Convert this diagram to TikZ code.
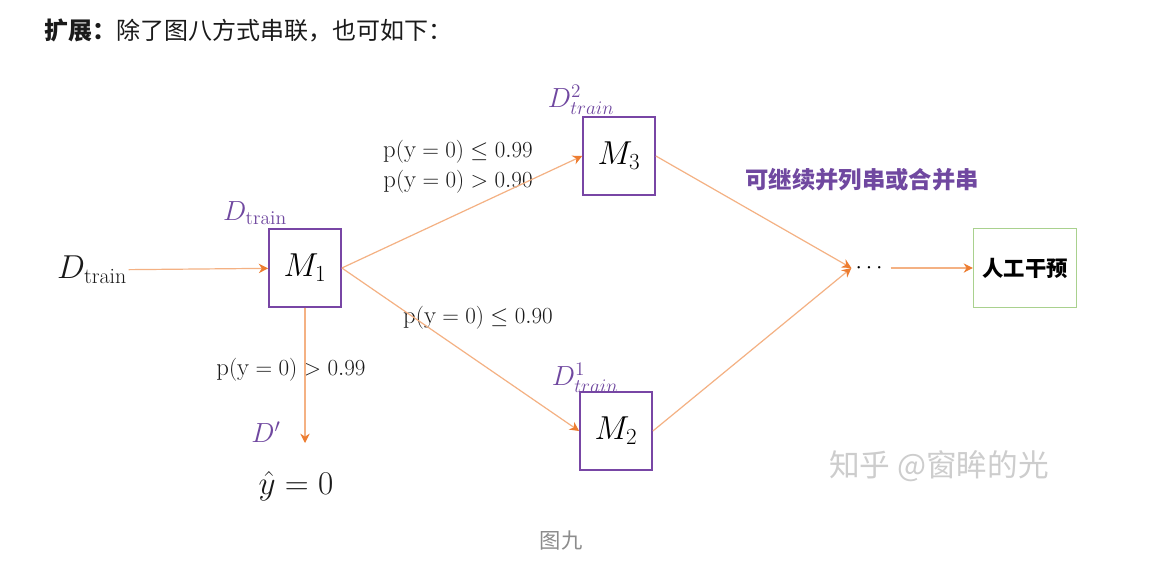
\documentclass[tikz,border=0pt]{standalone}
\usepackage{fontspec}
\usepackage{amsmath,amssymb}
\usetikzlibrary{arrows.meta,positioning}
\newfontfamily\cjk{Noto Sans CJK SC}
\definecolor{flowor}{RGB}{244,177,131}
\definecolor{tipor}{RGB}{237,125,49}
\definecolor{modpurple}{RGB}{120,70,165}
\definecolor{setpurple}{RGB}{112,72,160}
\definecolor{humgreen}{RGB}{169,209,142}
\definecolor{inkgray}{RGB}{26,26,26}
\definecolor{capgray}{RGB}{140,140,140}
\definecolor{markgray}{RGB}{205,205,205}
\tikzset{
  model/.style={draw=modpurple,line width=1.3pt,minimum width=54pt,
    minimum height=58pt,inner sep=0pt,font=\fontsize{23}{26}\selectfont},
  human/.style={draw=humgreen,line width=1.1pt,minimum width=77pt,
    minimum height=59pt,inner sep=0pt,font=\cjk\bfseries\fontsize{16}{18}\selectfont},
  flow/.style={-{Stealth[length=7pt,width=7pt,color=tipor]},draw=flowor,line width=0.9pt},
  cond/.style={font=\fontsize{18.5}{21}\selectfont,inner sep=1pt,text=inkgray},
  setlab/.style={text=setpurple,font=\fontsize{21}{24}\selectfont,inner sep=0pt},
  bigmath/.style={font=\fontsize{23.5}{26}\selectfont,inner sep=1pt,text=inkgray}
}

\begin{document}
\begin{tikzpicture}[x=0.75pt,y=-0.75pt]
  \fill[white] (0,0) rectangle (1152,571);
  \useasboundingbox (0,0) rectangle (1152,571);
  % heading and caption
  \node[anchor=west,font=\cjk\fontsize{18}{20}\selectfont,text=inkgray,inner sep=0pt]
    (head) at (44,30) {{\bfseries 扩展：}除了图八方式串联，也可如下：};
  \node[font=\cjk\fontsize{16}{18}\selectfont,text=capgray] (cap) at (561,541) {图九};
  % models
  \node[bigmath] (dtr) at (92,270) {$D_{\text{train}}$};
  \node[model] (m1) at (305,268) {$M_1$};
  \node[model] (m3) at (619,156) {$M_3$};
  \node[model] (m2) at (616,431) {$M_2$};
  \node[setlab] (d0) at (255,213) {$D_{\text{train}}$};
  \node[setlab] (d2) at (581,100) {$D^2_{train}$};
  \node[setlab] (d1) at (585,378) {$D^1_{train}$};
  \node[setlab] (dp) at (266,432) {$D'$};
  \node[bigmath] (yhat) at (296,486) {$\hat{y}=0$};
  \coordinate (dend) at (305,443);
  % merge and human check
  \node[font=\fontsize{18}{20}\selectfont,inner sep=3pt] (dots) at (871,268) {$\cdots$};
  \node[human] (hum) at (1025,268) {人工干预};
  \node[font=\cjk\bfseries\fontsize{17.5}{20}\selectfont,text=setpurple] (more) at (862,180)
    {可继续并列串或合并串};
  \node[font=\cjk\fontsize{23}{26}\selectfont,text=markgray] (mark) at (939,466)
    {知乎 @窗眸的光};
  % conditions
  \node[cond] (c1) at (458,152) {$\mathrm{p}(\mathrm{y}=0)\leq 0.99$};
  \node[cond] (c2) at (458,182) {$\mathrm{p}(\mathrm{y}=0)>0.90$};
  \node[cond] (c3) at (478,318) {$\mathrm{p}(\mathrm{y}=0)\leq 0.90$};
  \node[cond] (c4) at (291,370) {$\mathrm{p}(\mathrm{y}=0)>0.99$};
  % flows
  \draw[flow] (dtr)--(m1);
  \draw[flow] (m1.east)--(m3.west);
  \draw[flow] (m1.east)--(m2.west);
  \draw[flow] (m1.south)--(dend);
  \draw[flow] (m3.east)--(dots.west);
  \draw[flow] (m2.east)--(dots.west);
  \draw[flow] (dots)--(hum);
\end{tikzpicture}
\end{document}
